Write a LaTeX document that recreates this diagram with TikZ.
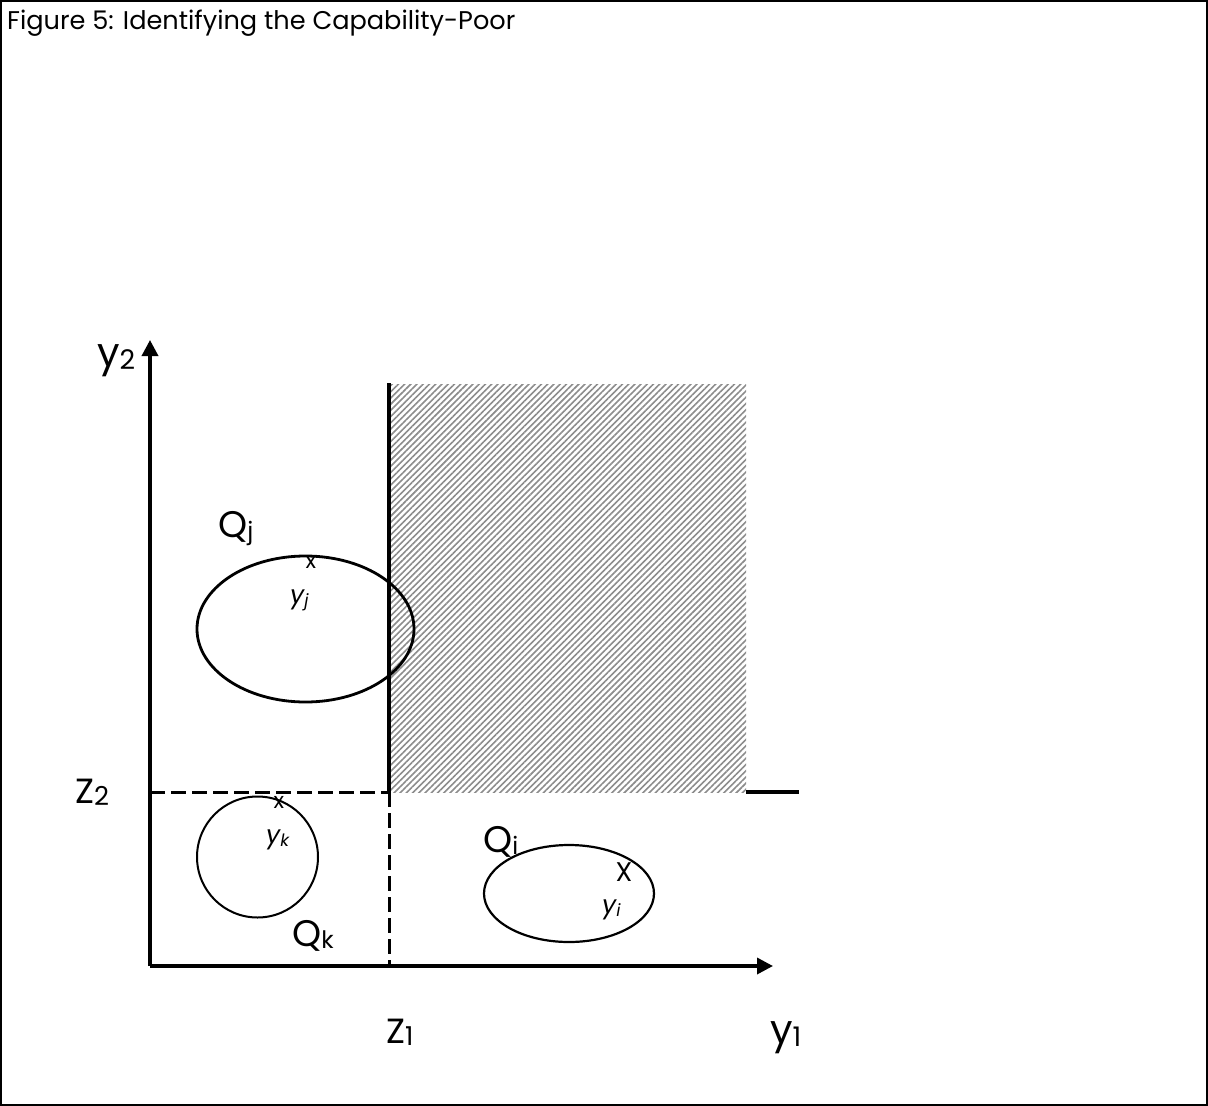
\documentclass[tikz,border=0pt]{standalone}
\usepackage{fontspec}
\setmainfont{Poppins}
\usepackage{tikz}
\usetikzlibrary{arrows.meta,patterns.meta,positioning}
\tikzstyle{axis}=[draw, line width=3.5pt, -{Triangle[length=16pt,width=16pt]}]
\tikzstyle{cut}=[draw, line width=3pt, dash pattern=on 15pt off 6pt]
\tikzstyle{lab}=[inner sep=0pt, anchor=base west]
\tikzstyle{ptmark}=[inner sep=0pt, font=\fontsize{22}{22}\selectfont]
% big label with a lowered index
\newcommand{\biglab}[4]{{\fontsize{#1}{#1}\selectfont #2\raisebox{-0.08em}{\fontsize{#4}{#4}\selectfont #3}}}
\newcommand{\ptlab}[2]{{\fontsize{25}{25}\selectfont\itshape #1\raisebox{-0.15em}{\fontsize{17}{17}\selectfont #2}}}

\begin{document}
\begin{tikzpicture}[x=1pt, y=-1pt]

            \useasboundingbox (0,0) rectangle (1208,1106);
            \draw[line width=2.5pt] (1,1) rectangle (1207,1105);

            % Title
            \node[lab] (title) at (7,29) {\fontsize{25.6}{26}\selectfont Figure 5: Identifying the Capability-Poor};

            % Corner points
            \coordinate (O) at (150,966);
            \coordinate (ytip) at (150,340);
            \coordinate (xtip) at (773,966);
            \coordinate (zz) at (389,792);
            \coordinate (ztop) at (389,383);
            \coordinate (zleft) at (150,792);
            \coordinate (zbot) at (389,966);
            \coordinate (hatchtop) at (746,384);
            \coordinate (hatchend) at (746,792);
            \coordinate (lineend) at (799,792);

            % Shaded region
            \fill[pattern={Lines[angle=45,distance=4.4pt,line width=1.6pt]}, pattern color=gray!90] (zz) rectangle (hatchtop);

            % Axes
            \draw[axis] (O) -- (ytip);
            \draw[axis] (O) -- (xtip);

            % Poverty lines
            \draw[line width=3.5pt] (zz) -- (ztop);
            \draw[line width=3.5pt] (hatchend) -- (lineend);
            \draw[cut] (zleft) -- (zz);
            \draw[cut] (zz) -- (zbot);

            % Capability sets
            \draw[line width=2.8pt] (305.5,629) ellipse (108.5 and 73);
            \draw[line width=2pt] (257.5,857) circle (60.5);
            \draw[line width=2.2pt] (569,893.5) ellipse (85 and 48.5);

            % Axis labels
            \node[lab] (ylab2) at (97,366) {\biglab{40}{y}{2}{27}};
            \node[lab] (ylab1) at (770,1043) {\biglab{40}{y}{1}{27}};
            \node[lab] (zlab2) at (75,803) {\biglab{35}{Z}{2}{26}};
            \node[lab] (zlab1) at (386,1043) {\biglab{35}{Z}{1}{26}};

            % Set labels
            \node[lab] (qj) at (218,537) {\biglab{37}{Q}{j}{24}};
            \node[lab] (qk) at (292,946) {\biglab{37}{Q}{k}{24}};
            \node[lab] (qi) at (483,852) {\biglab{37}{Q}{i}{24}};

            % Achieved points
            \node[ptmark] (xj) at (311,562) {x};
            \node[lab] (yj) at (290,603) {\ptlab{y}{j}};
            \node[ptmark] (xk) at (279,802) {x};
            \node[lab] (yk) at (266,843) {\ptlab{y}{k}};
            \node[ptmark, font=\fontsize{27}{27}\selectfont] (xi) at (624,872) {X};
            \node[lab] (yi) at (602,913) {\ptlab{y}{i}};

        \end{tikzpicture}
\end{document}
